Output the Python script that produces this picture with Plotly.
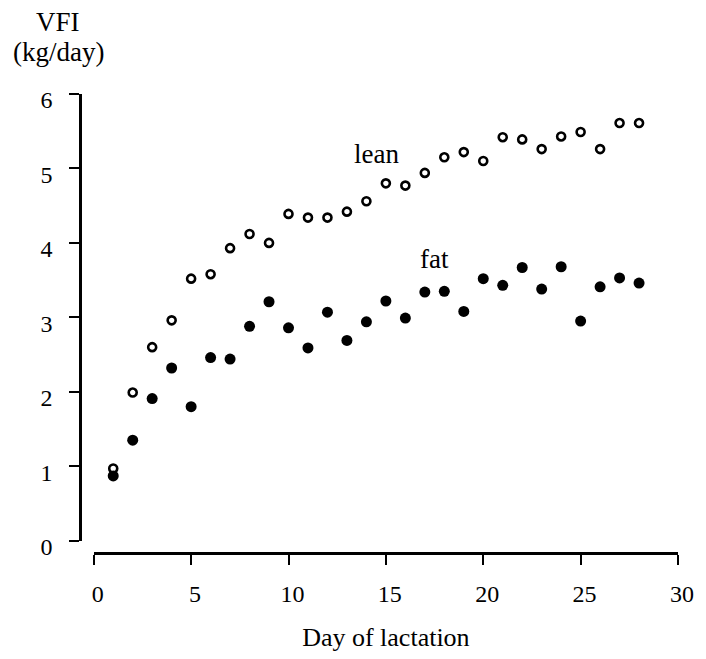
import plotly.graph_objects as go

days = list(range(1, 29))
lean = [0.97, 1.99, 2.60, 2.96, 3.52, 3.58, 3.93, 4.12, 4.00, 4.39,
        4.34, 4.34, 4.42, 4.56, 4.80, 4.77, 4.94, 5.15, 5.22, 5.10,
        5.42, 5.39, 5.26, 5.43, 5.49, 5.26, 5.61, 5.61]
fat = [0.87, 1.35, 1.91, 2.32, 1.80, 2.46, 2.44, 2.88, 3.21, 2.86,
       2.59, 3.07, 2.69, 2.94, 3.22, 2.99, 3.34, 3.35, 3.08, 3.52,
       3.43, 3.67, 3.38, 3.68, 2.95, 3.41, 3.53, 3.46]
x_ticks = [0, 5, 10, 15, 20, 25, 30]
y_ticks = [0, 1, 2, 3, 4, 5, 6]

FONT = "Liberation Serif"

fig = go.Figure()
fig.add_trace(go.Scatter(x=days, y=fat, mode="markers", name="fat",
                         marker=dict(symbol="circle", size=11, color="black")))
fig.add_trace(go.Scatter(x=days, y=lean, mode="markers", name="lean",
                         marker=dict(symbol="circle-open", size=8, color="black",
                                     line=dict(width=2.6, color="black"))))

fig.add_annotation(x=14.52, y=5.20, text="lean", showarrow=False,
                   font=dict(family=FONT, size=27, color="black"))
fig.add_annotation(x=17.5, y=3.78, text="fat", showarrow=False,
                   font=dict(family=FONT, size=27, color="black"))
fig.add_annotation(xref="paper", yref="paper", x=-0.036, y=1.0, yshift=72,
                   text="VFI", showarrow=False, xanchor="center", yanchor="middle",
                   font=dict(family=FONT, size=27, color="black"))
fig.add_annotation(xref="paper", yref="paper", x=-0.036, y=1.0, yshift=42,
                   text="(kg/day)", showarrow=False, xanchor="center", yanchor="middle",
                   font=dict(family=FONT, size=27, color="black"))

fig.update_layout(
    width=706, height=659,
    margin=dict(l=80, r=17, t=94, b=96),
    paper_bgcolor="white", plot_bgcolor="white",
    showlegend=False,
    font=dict(family=FONT, size=24, color="black"),
    xaxis=dict(domain=[0.023, 1], range=[0, 30], anchor="free", position=0,
               tickvals=x_ticks, ticks="outside", ticklen=10, tickwidth=2,
               tickcolor="black", showline=True, linewidth=2.5, linecolor="black",
               showgrid=False, zeroline=False, ticklabelstandoff=8,
               ticklabelshift=4,
               title=dict(text="Day of lactation", standoff=22,
                          font=dict(family=FONT, size=26))),
    yaxis=dict(domain=[0.0267, 1], range=[0, 6], anchor="free", position=0,
               tickvals=y_ticks, ticks="outside", ticklen=10, tickwidth=2,
               tickcolor="black", showline=True, linewidth=2.5, linecolor="black",
               showgrid=False, zeroline=False, ticklabelstandoff=12,
               ticklabelshift=6),
)

fig.write_html("out.html")
